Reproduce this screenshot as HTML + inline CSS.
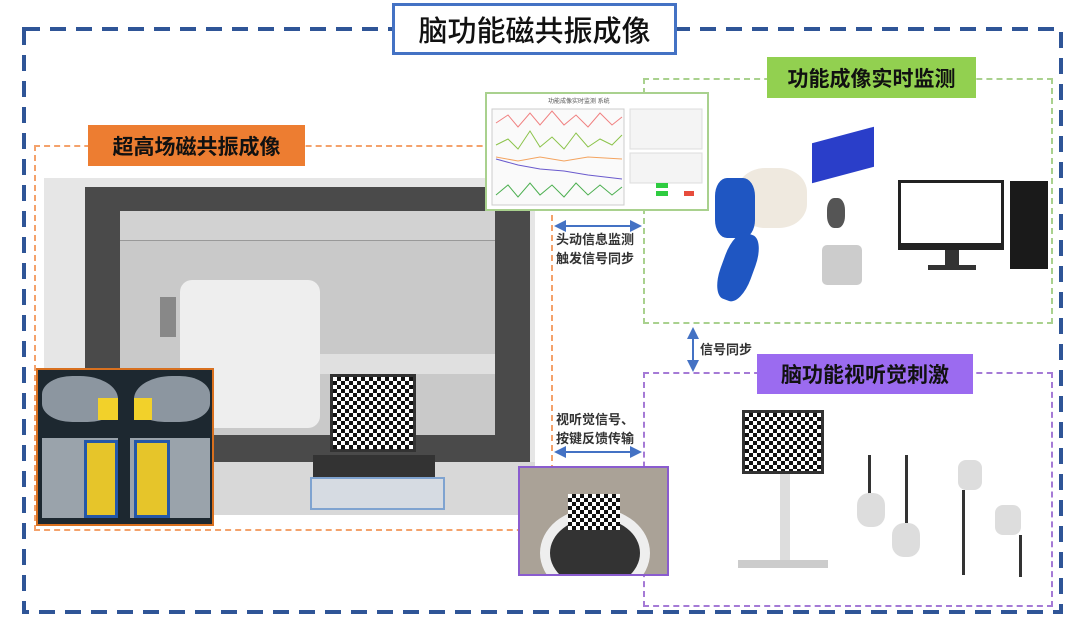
<!DOCTYPE html>
<html><head><meta charset="utf-8"><style>
body{margin:0;width:1080px;height:622px;background:#fff;position:relative;overflow:hidden;font-family:"Liberation Sans","Noto Sans CJK SC",sans-serif}
.a{position:absolute;box-sizing:border-box}
.lbl{position:absolute;box-sizing:border-box;font-weight:bold;font-size:21px;color:#111;display:flex;align-items:center;justify-content:center}
.t{position:absolute;font-size:13px;font-weight:bold;color:#333;line-height:19px}
.chk{background-color:#fff;background-image:linear-gradient(45deg,#111 25%,transparent 25%,transparent 75%,#111 75%),linear-gradient(45deg,#111 25%,transparent 25%,transparent 75%,#111 75%);background-size:8px 8px;background-position:0 0,4px 4px}
</style></head><body>
<!-- outer -->
<svg class="a" style="left:0;top:0" width="1080" height="622"><rect x="24" y="29" width="1037" height="583" fill="none" stroke="#2f5597" stroke-width="4" stroke-dasharray="16 10"/></svg>
<div class="lbl" style="left:392px;top:3px;width:285px;height:52px;border:3px solid #4472c4;background:#fff;font-size:29px;font-weight:500">脑功能磁共振成像</div>

<!-- orange -->
<div class="a" style="left:34px;top:145px;width:519px;height:386px;border:2px dashed #f4a26b"></div>
<div class="a" style="left:44px;top:178px;width:491px;height:337px;background:#e6e6e6"></div>
<div class="a" style="left:85px;top:187px;width:445px;height:276px;background:#4a4a4a"></div>
<div class="a" style="left:120px;top:211px;width:375px;height:224px;background:#c9c9c9"></div>
<div class="a" style="left:120px;top:211px;width:375px;height:30px;border-bottom:1px solid #999;background:#d2d2d2"></div>
<div class="a" style="left:44px;top:462px;width:491px;height:53px;background:#d8d8d8"></div>
<div class="a" style="left:180px;top:280px;width:140px;height:148px;background:#eee;border-radius:12px"></div>
<div class="a" style="left:160px;top:297px;width:16px;height:40px;background:#888"></div>
<div class="a" style="left:320px;top:354px;width:175px;height:20px;background:#e0e0e0"></div>
<div class="a" style="left:330px;top:374px;width:86px;height:78px;border:3px solid #333" ></div>
<div class="a chk" style="left:333px;top:377px;width:80px;height:72px"></div>
<div class="a" style="left:313px;top:455px;width:122px;height:22px;background:#333"></div>
<div class="a" style="left:310px;top:477px;width:135px;height:33px;background:#d6dbe2;border:2px solid #7fa3d0"></div>
<!-- brain inset -->
<div class="a" style="left:36px;top:368px;width:178px;height:158px;background:#1d2830;border:2px solid #d8701f"></div>
<div class="a" style="left:42px;top:376px;width:76px;height:46px;background:#8c96a0;border-radius:40% 50% 40% 40%"></div>
<div class="a" style="left:134px;top:376px;width:76px;height:46px;background:#8c96a0;border-radius:50% 40% 40% 40%"></div>
<div class="a" style="left:98px;top:398px;width:20px;height:22px;background:#f2d12a"></div>
<div class="a" style="left:134px;top:398px;width:18px;height:22px;background:#f2d12a"></div>
<div class="a" style="left:42px;top:438px;width:76px;height:80px;background:#9aa3ab"></div>
<div class="a" style="left:130px;top:438px;width:80px;height:80px;background:#9aa3ab"></div>
<div class="a" style="left:84px;top:440px;width:34px;height:78px;background:#e6c52a;border:3px solid #2457a8"></div>
<div class="a" style="left:134px;top:440px;width:36px;height:78px;background:#e6c52a;border:3px solid #2457a8"></div>
<div class="lbl" style="left:88px;top:125px;width:217px;height:41px;background:#ed7d31">超高场磁共振成像</div>

<!-- green -->
<div class="a" style="left:643px;top:78px;width:410px;height:246px;border:2px dashed #a9d18e"></div>
<div class="lbl" style="left:767px;top:57px;width:209px;height:41px;background:#92d050">功能成像实时监测</div>
<div class="a" style="left:485px;top:92px;width:224px;height:119px;background:#fff;border:2px solid #a9d18e"></div>
<svg class="a" style="left:488px;top:95px" width="218" height="113">
<text x="60" y="8" font-size="6" fill="#555">功能成像实时监测 系统</text>
<rect x="4" y="14" width="132" height="96" fill="#fafafa" stroke="#ccc"/>
<polyline points="8,28 20,20 30,32 42,18 52,30 64,16 76,30 88,20 100,32 112,18 124,30 134,22" fill="none" stroke="#f08080"/>
<polyline points="8,50 20,44 30,54 42,36 52,52 64,42 76,54 88,38 100,52 112,44 124,50 134,40" fill="none" stroke="#8bc34a"/>
<polyline points="8,62 30,66 52,62 76,66 100,62 134,64" fill="none" stroke="#f4a460"/>
<polyline points="8,64 30,70 52,74 76,76 100,80 134,84" fill="none" stroke="#6a5acd"/>
<polyline points="8,100 20,90 30,102 42,88 52,100 64,90 76,102 88,88 100,100 112,90 124,100 134,92" fill="none" stroke="#4caf50"/>
<rect x="142" y="14" width="72" height="40" fill="#f4f4f4" stroke="#ddd"/>
<rect x="142" y="58" width="72" height="30" fill="#f4f4f4" stroke="#ddd"/>
<rect x="168" y="88" width="12" height="5" fill="#2ecc40"/><rect x="168" y="96" width="12" height="5" fill="#2ecc40"/><rect x="196" y="96" width="10" height="5" fill="#e74c3c"/>
</svg>
<!-- devices -->
<div class="a" style="left:737px;top:168px;width:70px;height:60px;background:#efe9df;border-radius:40%"></div>
<div class="a" style="left:715px;top:178px;width:40px;height:60px;background:#1f56c2;border-radius:30%"></div>
<div class="a" style="left:722px;top:232px;width:32px;height:70px;background:#1f56c2;border-radius:40%;transform:rotate(20deg)"></div>
<div class="a" style="left:812px;top:135px;width:62px;height:40px;background:#2a3ec9;transform:skewY(-15deg)"></div>
<div class="a" style="left:827px;top:198px;width:18px;height:30px;background:#555;border-radius:40%"></div>
<div class="a" style="left:822px;top:245px;width:40px;height:40px;background:#ccc;border-radius:5px"></div>
<div class="a" style="left:898px;top:180px;width:106px;height:70px;background:#222"></div>
<div class="a" style="left:901px;top:183px;width:100px;height:60px;background:#fff"></div>
<div class="a" style="left:945px;top:250px;width:14px;height:16px;background:#333"></div>
<div class="a" style="left:928px;top:265px;width:48px;height:5px;background:#333"></div>
<div class="a" style="left:1010px;top:181px;width:38px;height:88px;background:#1a1a1a"></div>

<!-- purple -->
<div class="a" style="left:643px;top:372px;width:410px;height:235px;border:2px dashed #a57ad6"></div>
<div class="lbl" style="left:757px;top:354px;width:216px;height:40px;background:#9b6bf0">脑功能视听觉刺激</div>
<div class="a" style="left:742px;top:410px;width:82px;height:64px;border:3px solid #333"></div>
<div class="a chk" style="left:745px;top:413px;width:76px;height:58px"></div>
<div class="a" style="left:780px;top:474px;width:10px;height:90px;background:#ddd"></div>
<div class="a" style="left:738px;top:560px;width:90px;height:8px;background:#ccc"></div>
<div class="a" style="left:868px;top:455px;width:3px;height:40px;background:#333"></div>
<div class="a" style="left:905px;top:455px;width:3px;height:70px;background:#333"></div>
<div class="a" style="left:857px;top:493px;width:28px;height:34px;background:#ddd;border-radius:12px"></div>
<div class="a" style="left:892px;top:523px;width:28px;height:34px;background:#ddd;border-radius:12px"></div>
<div class="a" style="left:958px;top:460px;width:24px;height:30px;background:#ddd;border-radius:8px"></div>
<div class="a" style="left:962px;top:490px;width:3px;height:85px;background:#333"></div>
<div class="a" style="left:995px;top:505px;width:26px;height:30px;background:#ddd;border-radius:8px"></div>
<div class="a" style="left:1019px;top:535px;width:3px;height:42px;background:#333"></div>

<!-- camera inset -->
<div class="a" style="left:518px;top:466px;width:151px;height:110px;background:#aaa297;border:2px solid #8a5ccf;overflow:hidden">
<div class="a" style="left:20px;top:40px;width:110px;height:90px;border-radius:50%;border:10px solid #eee;background:#333"></div>
<div class="a chk" style="left:48px;top:26px;width:52px;height:36px"></div>
</div>

<!-- arrows -->
<svg class="a" style="left:0;top:0" width="1080" height="622">
<defs><marker id="m" markerWidth="6" markerHeight="6" refX="5" refY="3" orient="auto-start-reverse"><path d="M0,0 L6,3 L0,6z" fill="#4472c4"/></marker></defs>
<line x1="556" y1="226" x2="640" y2="226" stroke="#4472c4" stroke-width="2" marker-start="url(#m)" marker-end="url(#m)"/>
<line x1="556" y1="452" x2="640" y2="452" stroke="#4472c4" stroke-width="2" marker-start="url(#m)" marker-end="url(#m)"/>
<line x1="693" y1="329" x2="693" y2="370" stroke="#4472c4" stroke-width="2" marker-start="url(#m)" marker-end="url(#m)"/>
</svg>
<div class="t" style="left:556px;top:230px">头动信息监测<br>触发信号同步</div>
<div class="t" style="left:700px;top:340px">信号同步</div>
<div class="t" style="left:556px;top:410px">视听觉信号、<br>按键反馈传输</div>
</body></html>
